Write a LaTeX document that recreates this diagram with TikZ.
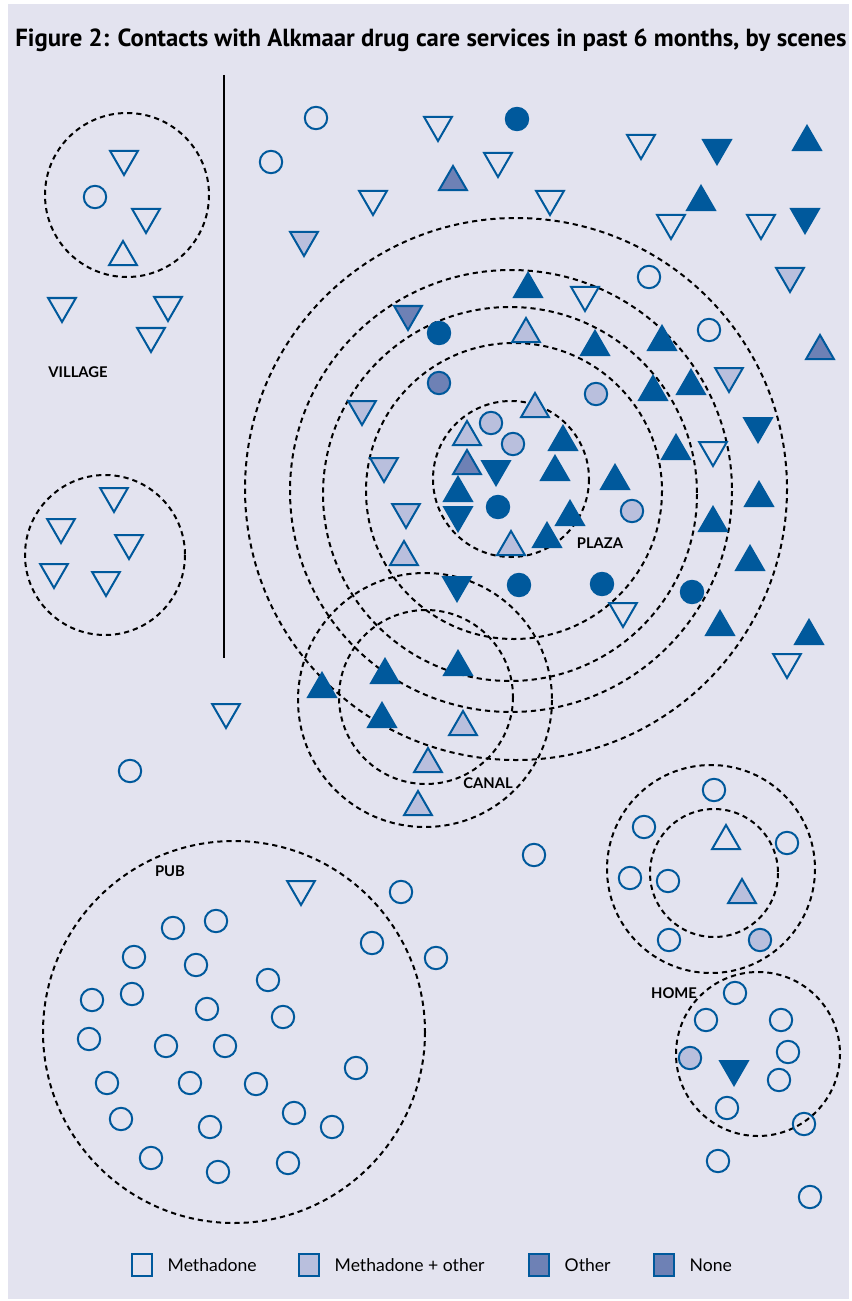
\documentclass[tikz,border=0pt]{standalone}
\usepackage{fontspec}
\setmainfont{Lato}
\newfontfamily\titlefont{PT Sans}
\usetikzlibrary{shapes.geometric,positioning}

\definecolor{careblue}{RGB}{0,89,156}
\definecolor{mixfill}{RGB}{185,191,221}
\definecolor{otherfill}{RGB}{110,129,181}
\definecolor{panel}{RGB}{227,227,239}

\begin{document}
\begin{tikzpicture}[
  x=0.025cm,
  y=-0.025cm,
  scene/.style={
    draw=black,
    line width=0.5mm,
    dash pattern=on 1.3mm off 1mm
  },
  ring/.style={
    circle,
    draw=careblue,
    line width=0.5mm,
    minimum size=5.6mm,
    inner sep=0pt
  },
  tri/.style={
    regular polygon,
    regular polygon sides=3,
    draw=careblue,
    line width=0.5mm,
    minimum size=8mm,
    inner sep=0pt
  },
  uptri/.style={tri, yshift=-1mm},
  dntri/.style={tri, shape border rotate=180, yshift=1mm},
  mix/.style={fill=mixfill},
  other/.style={fill=otherfill},
  nocare/.style={fill=careblue},
  place/.style={font=\bfseries\fontsize{10.5}{12}\selectfont},
  keybox/.style={
    draw=careblue,
    line width=0.5mm,
    minimum width=5.2mm,
    minimum height=5.6mm,
    inner sep=0pt
  },
  keytext/.style={
    anchor=west,
    inner sep=0pt,
    font=\fontsize{12.5}{14}\selectfont
  }
]

% panel
\useasboundingbox (0,0) rectangle (851,1301);
\fill[white] (0,0) rectangle (851,1301);
\fill[panel] (8,4) rectangle (849,1299);

\node[font=\titlefont\bfseries\fontsize{17.6}{20}\selectfont] (title) at (431,40)
  {Figure 2: Contacts with Alkmaar drug care services in past 6 months, by scenes};

% divider
\draw[line width=0.5mm] (224,75) -- (224,658);

%-----------------------------
% Scenes
%-----------------------------
\draw[scene] (127,195) circle [radius=82];
\draw[scene] (105,555) circle [radius=80];
\draw[scene] (511,479) circle [radius=78];
\draw[scene] (514,491) circle [radius=148];
\draw[scene] (510,494) circle [radius=187];
\draw[scene] (511,491) circle [radius=221];
\draw[scene] (516,489) circle [radius=271];
\draw[scene] (425,700) circle [radius=127];
\draw[scene] (426,697) circle [radius=87];
\draw[scene] (711,869) circle [radius=104];
\draw[scene] (714,873) circle [radius=64];
\draw[scene] (758,1054) circle [radius=82];
\draw[scene] (234,1032) circle [radius=191];

\node[place] (village) at (78,372) {VILLAGE};
\node[place] (plaza)   at (600,543) {PLAZA};
\node[place] (canal)   at (488,783) {CANAL};
\node[place] (pub)     at (170,871) {PUB};
\node[place] (home)    at (674,993) {HOME};

%-----------------------------
% Users: circles
%-----------------------------
\foreach \x/\y in {316/118,271/162,95/197,649/277,709/330,130/771,534/855,
  401/892,372/943,436/958,173/928,216/921,134/957,196/965,268/980,92/1000,
  132/994,207/1009,283/1017,89/1039,166/1046,225/1046,356/1068,107/1083,
  190/1083,256/1084,121/1119,294/1113,332/1127,210/1127,151/1158,288/1163,
  218/1172,714/790,644/827,787/843,630/878,668/881,669/940,735/993,706/1020,
  781/1020,788/1052,779/1080,727/1108,804/1124,718/1161,810/1197}
  \node[ring] at (\x,\y) {};
\foreach \x/\y in {596/394,491/423,513/444,632/511,760/940,690/1058}
  \node[ring, mix] at (\x,\y) {};
\node[ring, other] at (439,383) {};
\foreach \x/\y in {517/119,439/333,498/507,519/585,602/584,692/592}
  \node[ring, nocare] at (\x,\y) {};

%-----------------------------
% Users: triangles up
%-----------------------------
\foreach \x/\y in {123/253,726/837}
  \node[uptri] at (\x,\y) {};
\foreach \x/\y in {526/330,535/405,467/433,511/543,404/553,463/723,428/760,
  418/803,742/891}
  \node[uptri, mix] at (\x,\y) {};
\foreach \x/\y in {453/178,820/347,467/462}
  \node[uptri, other] at (\x,\y) {};
\foreach \x/\y in {807/138,701/198,528/285,662/338,595/343,691/382,653/388,
  563/438,676/447,555/468,615/477,458/489,759/494,570/513,713/519,547/535,
  750/558,720/623,809/632,458/663,385/671,322/685,382/715}
  \node[uptri, nocare] at (\x,\y) {};

%-----------------------------
% Users: triangles down
%-----------------------------
\foreach \x/\y in {438/129,498/165,373/203,550/203,641/147,671/227,761/227,
  585/299,713/454,623/615,787/666,226/716,301/893,124/163,146/221,62/310,
  168/309,151/340,114/500,61/531,129/547,54/576,106/584}
  \node[dntri] at (\x,\y) {};
\foreach \x/\y in {304/244,790/280,729/380,362/413,384/470,406/516}
  \node[dntri, mix] at (\x,\y) {};
\node[dntri, other] at (408,318) {};
\foreach \x/\y in {717/152,805/221,496/473,458/519,758/430,457/589,734/1073}
  \node[dntri, nocare] at (\x,\y) {};

%-----------------------------
% Legend
%-----------------------------
\node[keybox] (keymeth) at (142,1265) {};
\node[keytext, right=3.5mm of keymeth.east] (txtmeth) {Methadone};
\node[keybox, mix] (keymix) at (309,1265) {};
\node[keytext, right=3.5mm of keymix.east] (txtmix) {Methadone + other};
\node[keybox, other] (keyother) at (539,1265) {};
\node[keytext, right=3.5mm of keyother.east] (txtother) {Other};
\node[keybox, other] (keynone) at (664,1265) {};
\node[keytext, right=3.5mm of keynone.east] (txtnone) {None};

\end{tikzpicture}
\end{document}
